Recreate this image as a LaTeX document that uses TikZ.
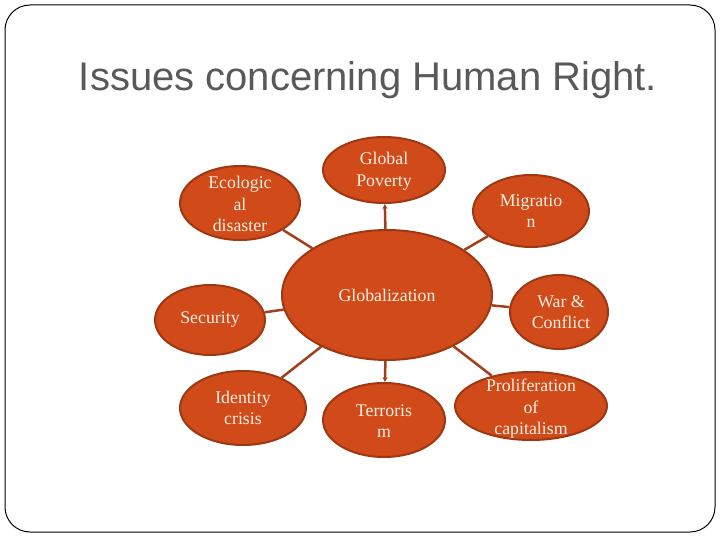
\documentclass[tikz,border=0pt]{standalone}
\usepackage{fontspec}
\setmainfont{Liberation Serif}
\newfontfamily\titlefont{Liberation Sans}
\usetikzlibrary{shapes.geometric,arrows.meta}
\definecolor{fillc}{HTML}{D04A1A}
\definecolor{edgec}{HTML}{9E3812}
\definecolor{txtc}{HTML}{FDF0E0}
\definecolor{linec}{HTML}{A0401C}
\definecolor{titlec}{HTML}{595959}
\begin{document}
\begin{tikzpicture}[x=1pt,y=-1pt,
  bubble/.style={ellipse, draw=edgec, line width=2pt, fill=fillc, inner sep=0pt},
  lbl/.style={text=txtc, align=center, inner sep=0pt, font=\fontsize{17.8}{21.5}\selectfont},
  conn/.style={draw=linec, line width=2.5pt},
  tip/.style={-{Stealth[length=5pt,width=5pt]}}]
\useasboundingbox (0,0) rectangle (720,540);
\draw[rounded corners=25pt, line width=1pt] (5,5) rectangle (715,532);
\node[text=titlec, font=\titlefont\fontsize{40}{46}\selectfont] (title) at (368,80) {Issues concerning Human Right.};

\node[bubble, minimum width=210pt, minimum height=130pt] (G) at (387,295) {};
\node[bubble, minimum width=120pt, minimum height=74pt] (E) at (240,203) {};
\node[bubble, minimum width=122pt, minimum height=66pt] (P) at (384,170) {};
\node[bubble, minimum width=116pt, minimum height=72pt] (M) at (531,211) {};
\node[bubble, minimum width=110pt, minimum height=70pt] (S) at (210,320) {};
\node[bubble, minimum width=98pt, minimum height=74pt] (W) at (559,312) {};
\node[bubble, minimum width=126pt, minimum height=74pt] (I) at (243,408) {};
\node[bubble, minimum width=122pt, minimum height=74pt] (T) at (384,420) {};
\node[bubble, minimum width=152pt, minimum height=68pt] (C) at (531,406) {};

\node[lbl] (Gt) at (387,295) {Globalization};
\node[lbl] (Et) at (240,204) {Ecologic\\al\\disaster};
\node[lbl] (Pt) at (384,171) {Global\\Poverty};
\node[lbl] (Mt) at (531,211) {Migratio\\n};
\node[lbl] (St) at (210,320) {Security};
\node[lbl] (Wt) at (561,312) {War \&\\Conflict};
\node[lbl] (It) at (243,408) {Identity\\crisis};
\node[lbl] (Tt) at (384,421) {Terroris\\m};
\node[lbl] (Ct) at (531,409) {Proliferation\\of\\capitalism};

\draw[conn] (G) -- (E);
\draw[conn, tip] (G) -- (P);
\draw[conn] (G) -- (M);
\draw[conn] (G) -- (S);
\draw[conn] (G) -- (W);
\draw[conn] (G) -- (I);
\draw[conn, tip] (G) -- (T);
\draw[conn] (G) -- (C);
\end{tikzpicture}
\end{document}
